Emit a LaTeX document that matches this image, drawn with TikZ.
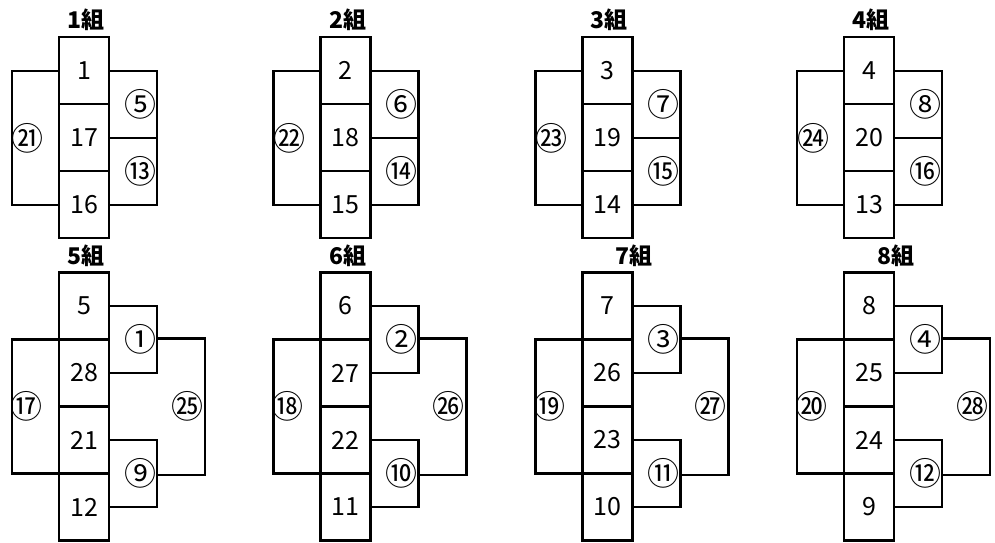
\documentclass[tikz,border=0pt]{standalone}
\usepackage{fontspec}
\setmainfont{Noto Sans CJK JP}
\tikzset{
    cell/.style = {
        rectangle, draw, line width=2.5pt,
        minimum width=50pt, minimum height=67pt,
        inner sep=0pt,
        font=\fontsize{25}{25}\selectfont
    },
    side/.style = {
        rectangle, draw, line width=2.5pt,
        inner sep=0pt
    },
    circnum/.style = {
        inner sep=0pt,
        font=\fontsize{32}{32}\selectfont
    },
    grouptitle/.style = {
        font=\bfseries\fontsize{23}{23}\selectfont
    },
    frame/.style = {
        line width=2.5pt
    }
}
\begin{document}
\begin{tikzpicture}[x=1pt, y=-1pt]
\useasboundingbox (0,0) rectangle (995,542);

% upper row: groups 1-4
\foreach \g/\a/\b/\c/\l/\r/\s in {1/1/17/16/㉑/⑤/⑬, 2/2/18/15/㉒/⑥/⑭, 3/3/19/14/㉓/⑦/⑮, 4/4/20/13/㉔/⑧/⑯}{
  \begin{scope}[shift={({261.7*(\g-1)},0)}]
    \node[grouptitle] (t\g) at (86,20) {\g{}組};
    \node[cell] (a\g) at (84,70.5) {\a};
    \node[cell] (b\g) at (84,137.5) {\b};
    \node[cell] (c\g) at (84,204.5) {\c};
    \node[side, minimum width=47pt, minimum height=134pt] (l\g) at (35.5,138) {};
    \node[side, minimum width=48pt, minimum height=67pt] (r\g) at (133,104.5) {};
    \node[side, minimum width=48pt, minimum height=67pt] (s\g) at (133,171.5) {};
    \node[circnum] (ln\g) at (28,138) {\l};
    \node[circnum] (rn\g) at (140,104.5) {\r};
    \node[circnum] (sn\g) at (140,171.5) {\s};
  \end{scope}
}

% lower row: groups 5-8
\foreach \g/\tx/\a/\b/\c/\d/\l/\p/\q/\w in {5/86/5/28/21/12/⑰/①/⑨/㉕, 6/86/6/27/22/11/⑱/②/⑩/㉖, 7/111/7/26/23/10/⑲/③/⑪/㉗, 8/111/8/25/24/9/⑳/④/⑫/㉘}{
  \begin{scope}[shift={({261.7*(\g-5)},0)}]
    \node[grouptitle] (t\g) at (\tx,256) {\g{}組};
    \node[cell] (a\g) at (84,306) {\a};
    \node[cell] (b\g) at (84,373) {\b};
    \node[cell] (c\g) at (84,440) {\c};
    \node[cell] (d\g) at (84,507) {\d};
    \node[side, minimum width=47pt, minimum height=134pt] (l\g) at (35.5,406.5) {};
    \node[side, minimum width=48pt, minimum height=67pt] (p\g) at (133,339.5) {};
    \node[side, minimum width=48pt, minimum height=67pt] (q\g) at (133,473.5) {};
    \coordinate (w\g) at (205,406.5);
    \draw[frame] (p\g.east |- l\g.north) -| (w\g) |- (q\g.east |- l\g.south);
    \node[circnum] (ln\g) at (26,406.5) {\l};
    \node[circnum] (pn\g) at (140,339.5) {\p};
    \node[circnum] (qn\g) at (140,473.5) {\q};
    \node[circnum] (wn\g) at (187,406.5) {\w};
  \end{scope}
}

\end{tikzpicture}
\end{document}
